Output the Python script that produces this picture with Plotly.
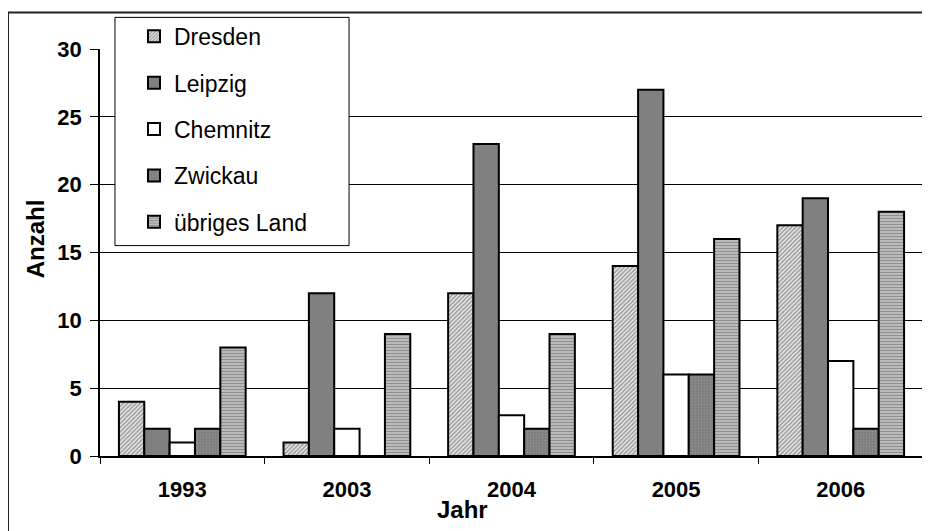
import plotly.graph_objects as go

jahre = ["1993", "2003", "2004", "2005", "2006"]
dresden = [4, 1, 12, 14, 17]
leipzig = [2, 12, 23, 27, 19]
chemnitz = [1, 2, 3, 6, 7]
zwickau = [2, 0, 2, 6, 2]
uebriges = [8, 9, 9, 16, 18]

FONT = "Liberation Sans, Arial, sans-serif"

# (name, values, bg, fg, pattern shape, pattern size)
SERIES = [
    ("Dresden", dresden, "#e8e8e8", "#404040", "/", 3),
    ("Leipzig", leipzig, "#808080", "#808080", "", 0),
    ("Chemnitz", chemnitz, "#ffffff", "#ffffff", "", 0),
    ("Zwickau", zwickau, "#7a7a7a", "#a0a0a0", ".", 3),
    ("übriges Land", uebriges, "#c4c4c4", "#5a5a5a", "-", 3),
]

fig = go.Figure()
for i, (name, vals, bg, fg, shape, psize) in enumerate(SERIES):
    marker = dict(color=bg, line=dict(color="black", width=2))
    if shape:
        marker["pattern"] = dict(shape=shape, fgcolor=fg, bgcolor=bg, size=psize, solidity=0.45)
    fig.add_trace(go.Bar(x=jahre, y=vals, name=name, marker=marker, legendgroup=f"g{i}"))

# page has an 8px body margin -> figure is 922x523, plot area 100..923 x 44..456 on screen
fig.update_layout(
    width=922, height=523,
    margin=dict(l=92, r=7, t=36, b=75),
    paper_bgcolor="white", plot_bgcolor="white",
    barmode="group", bargap=0.23, bargroupgap=0,
    font=dict(family=FONT, color="black"),
    legend=dict(
        x=0.0413, y=1.084, xanchor="left", yanchor="top",
        bgcolor="rgba(0,0,0,0)", borderwidth=0,
        font=dict(size=23, family=FONT), traceorder="grouped", tracegroupgap=13.5,
    ),
    shapes=[
        # outer chart frame
        dict(type="rect", xref="paper", yref="paper", x0=-0.1118, x1=1.2, y0=-0.4, y1=1.0898,
             line=dict(color="#222222", width=2), fillcolor="rgba(0,0,0,0)", layer="below"),
        # right border of plot area
        dict(type="line", xref="paper", yref="paper", x0=1, x1=1, y0=-0.015, y1=1,
             line=dict(color="black", width=1.5)),
        # legend box
        dict(type="rect", xref="paper", yref="paper", x0=0.0182, x1=0.3026, y0=0.517, y1=1.0777,
             line=dict(color="black", width=1), fillcolor="white", layer="above"),
    ],
    annotations=[
        dict(text="<b>Jahr</b>", xref="paper", yref="paper", x=0.441, y=-0.131,
             xanchor="center", yanchor="middle",
             showarrow=False, font=dict(size=24, family=FONT)),
        dict(text="<b>Anzahl</b>", xref="paper", yref="paper", x=-0.079, y=0.535, textangle=-90,
             xanchor="center", yanchor="middle",
             showarrow=False, font=dict(size=24, family=FONT)),
    ],
)

fig.update_xaxes(
    type="category", showline=True, linecolor="black", linewidth=1.5,
    ticks="outside", tickson="boundaries", ticklen=6, tickcolor="black",
    tickfont=dict(size=22, family=FONT), tickprefix="<b>", ticksuffix="</b>",
    ticklabelstandoff=13, showgrid=False,
)
fig.update_yaxes(
    range=[0, 30], dtick=5, showline=True, linecolor="black", linewidth=1.5,
    ticks="outside", ticklen=8, tickcolor="black",
    tickfont=dict(size=22, family=FONT), tickprefix="<b>", ticksuffix="</b>",
    ticklabelstandoff=4,
    showgrid=True, gridcolor="black", gridwidth=1, zeroline=False,
)

fig.write_html("out.html")
